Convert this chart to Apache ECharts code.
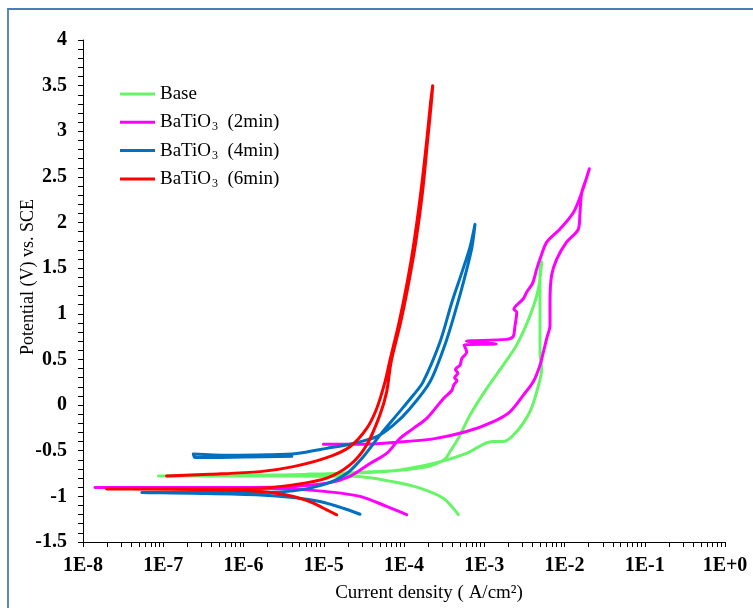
<!DOCTYPE html>
<html><head><meta charset="utf-8">
<script src="https://cdn.jsdelivr.net/npm/echarts@6/dist/echarts.min.js"></script>
<style>html,body{margin:0;padding:0;background:#fff}#c{width:753px;height:608px}</style>
</head><body><div id="c"></div>
<script>
// ---- data ----
const seriesNames = ['Base', 'BaTiO3 (2min)', 'BaTiO3 (4min)', 'BaTiO3 (6min)'];
const xDecades = [1e-8, 1e-7, 1e-6, 1e-5, 1e-4, 1e-3, 1e-2, 1e-1, 1];
const xTickLabels = ['1E-8', '1E-7', '1E-6', '1E-5', '1E-4', '1E-3', '1E-2', '1E-1', '1E+0'];

const baseCurrent = [4.75e-4, 4.11e-4, 3.09e-4, 1.58e-4, 7.36e-5, 2.33e-5, 3.16e-6, 5.0e-7, 8.7e-8,
  3.16e-7, 3.16e-6, 1.0e-5, 3.16e-5, 7.4e-5, 1.92e-4, 3.16e-4, 3.8e-4, 4.75e-4, 6.64e-4, 1.07e-3,
  1.73e-3, 2.54e-3, 3.72e-3, 4.72e-3, 5.2e-3, 4.95e-3, 4.95e-3, 5.2e-3, 4.5e-3, 3.72e-3, 2.54e-3,
  1.73e-3, 1.29e-3, 9.7e-4, 6.0e-4, 2.32e-4, 8.9e-5, 2.5e-5, 6.3e-6];
const basePotential = [-1.20, -1.13, -1.02, -0.91, -0.84, -0.78, -0.778, -0.777, -0.776,
  -0.772, -0.765, -0.755, -0.735, -0.72, -0.675, -0.60, -0.50, -0.365, -0.11, 0.18,
  0.44, 0.66, 0.98, 1.27, 1.57, 1.50, 0.58, 0.40, 0.145, -0.07, -0.29,
  -0.40, -0.40, -0.43, -0.53, -0.64, -0.71, -0.745, -0.755];

const min2Current = [1.08e-4, 6.08e-5, 2.83e-5, 1.09e-5, 4.17e-6, 1.61e-6, 1.58e-7, 1.41e-8,
  1.0e-7, 1.0e-6, 3.5e-6, 1.09e-5, 2.12e-5, 3.77e-5, 6.08e-5, 8.9e-5, 1.31e-4, 1.92e-4, 3.09e-4,
  3.94e-4, 4.17e-4, 4.57e-4, 4.27e-4, 4.68e-4, 4.37e-4, 5.0e-4, 5.25e-4, 6.04e-4, 5.6e-4, 1.41e-3,
  6.0e-4, 1.9e-3, 2.29e-3, 2.4e-3, 2.54e-3, 2.34e-3, 3.07e-3, 3.39e-3, 3.98e-3, 4.5e-3, 4.95e-3,
  6.0e-3, 8.8e-3, 1.29e-2, 1.64e-2, 2.04e-2,
  1.9e-2, 1.64e-2, 1.56e-2, 1.49e-2, 1.06e-2, 8.0e-3, 6.9e-3, 6.6e-3, 6.6e-3, 6.0e-3, 5.45e-3,
  4.95e-3, 4.08e-3, 3.07e-3, 2.09e-3, 1.3e-3, 6.0e-4, 2.32e-4, 7.36e-5, 2.83e-5, 9.9e-6];
const min2Potential = [-1.20, -1.11, -1.00, -0.948, -0.918, -0.91, -0.905, -0.904,
  -0.902, -0.902, -0.895, -0.857, -0.78, -0.64, -0.53, -0.365, -0.255, -0.146, 0.07,
  0.16, 0.22, 0.27, 0.30, 0.35, 0.39, 0.44, 0.51, 0.58, 0.66, 0.67,
  0.70, 0.72, 0.75, 0.85, 1.02, 1.05, 1.165, 1.24, 1.33, 1.49, 1.60,
  1.785, 1.93, 2.11, 2.33, 2.59,
  2.50, 2.33, 2.11, 1.93, 1.785, 1.60, 1.42, 1.13, 0.874, 0.73, 0.58,
  0.437, 0.255, 0.11, -0.073, -0.18, -0.29, -0.37, -0.41, -0.43, -0.43];

const min4Current = [2.83e-5, 1.75e-5, 8.97e-6, 4.17e-6, 1.61e-6, 2.37e-7, 5.4e-8,
  2.5e-7, 1.61e-6, 4.17e-6, 1.09e-5, 1.93e-5, 3.11e-5, 5.0e-5, 8.1e-5, 1.31e-4, 1.73e-4,
  2.81e-4, 3.96e-4, 5.28e-4, 6.64e-4, 7.67e-4,
  7.03e-4, 5.93e-4, 4.71e-4, 3.33e-4, 2.11e-4, 1.19e-4, 7.36e-5, 4.57e-5, 2.33e-5, 1.09e-5,
  4.6e-6, 2.0e-6, 6.3e-7, 2.37e-7, 2.5e-7, 1.0e-6, 4.0e-6];
const min4Potential = [-1.196, -1.13, -1.057, -1.013, -0.984, -0.966, -0.958,
  -0.956, -0.955, -0.94, -0.86, -0.75, -0.565, -0.33, -0.11, 0.11, 0.255,
  0.692, 1.13, 1.457, 1.73, 1.98,
  1.73, 1.457, 1.13, 0.692, 0.255, -0.037, -0.22, -0.346, -0.42, -0.474,
  -0.53, -0.545, -0.55, -0.535, -0.575, -0.57, -0.56];

const min6Current = [1.45e-5, 1.09e-5, 7.41e-6, 4.17e-6, 1.61e-6, 3.83e-7, 1.97e-8,
  2.37e-7, 1.61e-6, 4.17e-6, 1.09e-5, 2.12e-5, 3.43e-5, 5.0e-5, 6.08e-5, 6.9e-5, 9.1e-5,
  1.15e-4, 1.40e-4, 1.70e-4, 1.96e-4, 2.19e-4, 2.28e-4,
  2.14e-4, 1.91e-4, 1.62e-4, 1.33e-4, 1.10e-4, 8.7e-5, 6.6e-5, 5.8e-5, 4.57e-5, 3.43e-5,
  2.12e-5, 1.09e-5, 4.17e-6, 1.61e-6, 3.83e-7, 1.1e-7];
const min6Potential = [-1.202, -1.148, -1.075, -1.0, -0.948, -0.926, -0.918,
  -0.916, -0.91, -0.874, -0.80, -0.656, -0.437, -0.11, 0.145, 0.47, 0.91,
  1.35, 1.78, 2.33, 2.88, 3.31, 3.50,
  3.31, 2.88, 2.33, 1.78, 1.35, 0.91, 0.47, 0.255, -0.037, -0.256,
  -0.456, -0.576, -0.674, -0.729, -0.758, -0.776];

const seriesColors = ['#66f566', '#ff00ff', '#0070c0', '#ff0000'];

// ---- build ----
function pairs(xs, ys) { return xs.map((x, i) => [x, ys[i]]); }
const seriesData = [
  pairs(baseCurrent, basePotential),
  pairs(min2Current, min2Potential),
  pairs(min4Current, min4Potential),
  pairs(min6Current, min6Potential)
];
const xTickValues = [];
xDecades.forEach((d, i) => {
  xTickValues.push(d);
  if (i < xDecades.length - 1) for (let k = 2; k <= 9; k++) xTickValues.push(d * k);
});
function xLabel(v) {
  const e = Math.log10(v);
  for (let i = 0; i < xDecades.length; i++) {
    if (Math.abs(Math.log10(xDecades[i]) - e) < 1e-6) return xTickLabels[i];
  }
  return '';
}
const FONT = '"Liberation Serif", "Times New Roman", serif';

const chart = echarts.init(document.getElementById('c'), null, { renderer: 'canvas' });
chart.setOption({
  animation: false,
  backgroundColor: '#fff',
  graphic: [{
    type: 'rect', silent: true, z: 100,
    shape: { x: 8, y: 9, width: 800, height: 700 },
    style: { fill: 'none', stroke: '#4a7ebb', lineWidth: 1.8 }
  }],
  grid: { left: 83, right: 28, top: 40, bottom: 66, containLabel: false },
  legend: {
    orient: 'vertical', left: 120, top: 83, padding: 0,
    icon: 'rect', itemWidth: 35, itemHeight: 3, itemGap: 6.3,
    data: seriesNames,
    textStyle: {
      fontFamily: FONT, fontSize: 19, color: '#000', lineHeight: 22,
      rich: {
        n: { fontFamily: FONT, fontSize: 19, color: '#000', lineHeight: 22 },
        s: { fontFamily: FONT, fontSize: 12, color: '#000', padding: [10, 0, 0, 1], verticalAlign: 'bottom' }
      }
    },
    formatter: function (name) {
      const m = name.match(/^BaTiO3 (.*)$/);
      if (m) return '{n|BaTiO}{s|3}{n|  ' + m[1] + '}';
      return '{n|' + name + '}';
    }
  },
  xAxis: {
    type: 'log', logBase: 10, min: 1e-8, max: 1,
    axisLine: { show: true, onZero: false, lineStyle: { color: '#000', width: 1 } },
    axisTick: { show: true, length: 5, customValues: xTickValues, lineStyle: { color: '#000' } },
    minorTick: { show: false },
    splitLine: { show: false },
    axisLabel: {
      customValues: xDecades, formatter: xLabel, margin: 14,
      fontFamily: FONT, fontWeight: 'bold', fontSize: 20, color: '#000'
    },
    name: 'Current density ( A/cm\u00B2)', nameLocation: 'middle', nameGap: 42, nameMoveOverlap: false,
    nameTextStyle: { fontFamily: FONT, fontSize: 19, color: '#000', padding: [0, 0, 0, 50] }
  },
  yAxis: {
    type: 'value', min: -1.5, max: 4, interval: 0.5,
    axisLine: { show: true, onZero: false, lineStyle: { color: '#000', width: 1 } },
    axisTick: { show: true, length: 5, lineStyle: { color: '#000' } },
    minorTick: { show: true, splitNumber: 5, length: 5, lineStyle: { color: '#000' } },
    splitLine: { show: false },
    minorSplitLine: { show: false },
    axisLabel: { margin: 16, fontFamily: FONT, fontWeight: 'bold', fontSize: 20, color: '#000' },
    name: 'Potential (V) vs. SCE', nameLocation: 'middle', nameGap: 46, nameMoveOverlap: false,
    nameTextStyle: { fontFamily: FONT, fontSize: 18, color: '#000', padding: [0, 0, 0, 28] }
  },
  series: seriesNames.map((name, i) => ({
    name: name, type: 'line', data: seriesData[i],
    showSymbol: false, symbol: 'none', smooth: 0.3,
    color: seriesColors[i],
    lineStyle: { color: seriesColors[i], width: 3, cap: 'round', join: 'round' },
    z: 2 + i
  }))
});
</script>
</body></html>
